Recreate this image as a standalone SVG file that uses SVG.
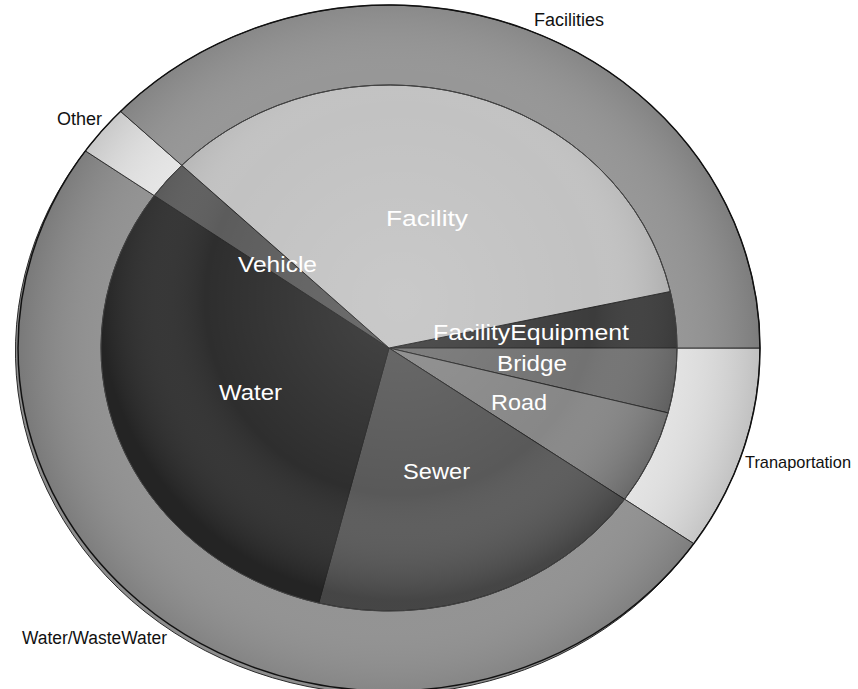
<svg xmlns="http://www.w3.org/2000/svg" width="858" height="689" viewBox="0 0 858 689">
<defs>
<style>
.lbl{font-family:"Liberation Sans",Arial,sans-serif;font-size:18px;fill:#111}
.in{font-family:"Liberation Sans",Arial,sans-serif;font-size:22px;fill:#fff}
.edge{stroke:#2a2a2a;stroke-width:1}
</style>
<radialGradient id="shadeIn" gradientUnits="userSpaceOnUse" cx="400" cy="300" r="300">
<stop offset="0" stop-color="#fff" stop-opacity="0.12"/>
<stop offset="0.65" stop-color="#fff" stop-opacity="0"/>
<stop offset="1" stop-color="#000" stop-opacity="0.22"/>
</radialGradient>
<radialGradient id="shadeOut" gradientUnits="userSpaceOnUse" cx="389" cy="348" r="371">
<stop offset="0.75" stop-color="#fff" stop-opacity="0.05"/>
<stop offset="1" stop-color="#000" stop-opacity="0.15"/>
</radialGradient>
</defs>
<rect width="858" height="689" fill="#fff"/>
<g id="outer-ring">
<g id="transportation"><path class="edge" d="M389,348 L760,348 A371,343 0 0,1 693.7,543.6 Z" fill="#e2e2e2"/></g>
<g id="water-wastewater"><path class="edge" d="M389,348 L693.7,543.6 A371,343 0 1,1 85.4,150.9 Z" fill="#8e8e8e"/></g>
<g id="other"><path class="edge" d="M389,348 L85.4,150.9 A371,343 0 0,1 120.5,111.3 Z" fill="#e4e4e4"/></g>
<g id="facilities"><path class="edge" d="M389,348 L120.5,111.3 A371,343 0 0,1 760,348 Z" fill="#929292"/></g>
<ellipse cx="389" cy="348" rx="371" ry="343" fill="url(#shadeOut)" stroke="#111" stroke-width="1.5"/>
</g>
<g id="inner-pie">
<g id="facility-equipment"><path class="edge" d="M389,348 L670.3,291.5 A288,263 0 0,1 677,348 Z" fill="#3c3c3c"/></g>
<g id="bridge"><path class="edge" d="M389,348 L677,348 A288,263 0 0,1 668.1,412.9 Z" fill="#727272"/></g>
<g id="road"><path class="edge" d="M389,348 L668.1,412.9 A288,263 0 0,1 624.6,499.3 Z" fill="#878787"/></g>
<g id="sewer"><path class="edge" d="M389,348 L624.6,499.3 A288,263 0 0,1 318.7,603 Z" fill="#595959"/></g>
<g id="water"><path class="edge" d="M389,348 L318.7,603 A288,263 0 0,1 154.3,195.6 Z" fill="#2e2e2e"/></g>
<g id="vehicle"><path class="edge" d="M389,348 L154.3,195.6 A288,263 0 0,1 181.8,165.3 Z" fill="#5c5c5c"/></g>
<g id="facility"><path class="edge" d="M389,348 L181.8,165.3 A288,263 0 0,1 670.3,291.5 Z" fill="#c2c2c2"/></g>
<ellipse cx="389" cy="348" rx="288" ry="263" fill="url(#shadeIn)" stroke="#444" stroke-width="1"/>
</g>
<g id="labels">
<text class="in" x="386" y="226" textLength="82" lengthAdjust="spacingAndGlyphs">Facility</text>
<text class="in" x="238" y="272" textLength="79" lengthAdjust="spacingAndGlyphs">Vehicle</text>
<text class="in" x="433" y="340" textLength="196" lengthAdjust="spacingAndGlyphs">FacilityEquipment</text>
<text class="in" x="497" y="371" textLength="70" lengthAdjust="spacingAndGlyphs">Bridge</text>
<text class="in" x="491" y="410" textLength="56" lengthAdjust="spacingAndGlyphs">Road</text>
<text class="in" x="219" y="400" textLength="63" lengthAdjust="spacingAndGlyphs">Water</text>
<text class="in" x="403" y="479" textLength="67" lengthAdjust="spacingAndGlyphs">Sewer</text>
<text class="lbl" x="534" y="26">Facilities</text>
<text class="lbl" x="57" y="125">Other</text>
<text class="lbl" x="745" y="468" style="font-size:17px" textLength="106" lengthAdjust="spacingAndGlyphs">Tranaportation</text>
<text class="lbl" x="22" y="644" textLength="145" lengthAdjust="spacingAndGlyphs">Water/WasteWater</text>
</g>
</svg>
